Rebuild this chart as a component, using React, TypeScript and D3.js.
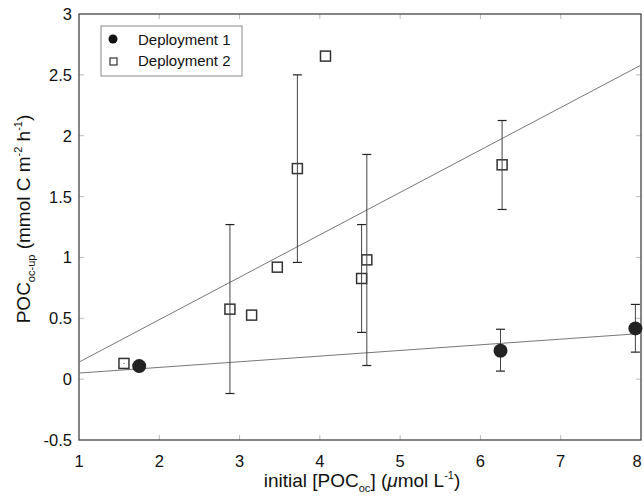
import React from "react";
import * as d3 from "d3";

const dep1X = [1.75, 6.25, 7.93];
const dep1Y = [0.107, 0.233, 0.417];
const dep1Lo = [null, 0.066, 0.222];
const dep1Hi = [null, 0.41, 0.614];

const dep2X = [1.56, 2.88, 3.15, 3.47, 3.72, 4.07, 4.52, 4.585, 6.27];
const dep2Y = [0.129, 0.575, 0.526, 0.92, 1.73, 2.654, 0.827, 0.98, 1.761];
const dep2Lo = [0.125, -0.118, null, null, 0.959, null, 0.384, 0.112, 1.394];
const dep2Hi = [0.133, 1.27, null, null, 2.5, null, 1.27, 1.846, 2.125];

const fit1 = [0.05, 0.375]; // y at x=1 and x=8
const fit2 = [0.14, 2.58];

const xTicks = [1, 2, 3, 4, 5, 6, 7, 8];
const yTicks = [-0.5, 0, 0.5, 1, 1.5, 2, 2.5, 3];

const W = 644, H = 504;
const L = 79, R = 641, T = 14, B = 440;
const font = "'Liberation Sans', Arial, Helvetica, sans-serif";

export default function App() {
  const x = d3.scaleLinear().domain([1, 8]).range([L, R]);
  const y = d3.scaleLinear().domain([-0.5, 3]).range([B, T]);
  const cap = 4.5;

  const errBar = (xv: number, lo: number | null, hi: number | null, key: string) => {
    if (lo == null || hi == null) return null;
    const px = x(xv);
    const showCaps = Math.abs(y(lo) - y(hi)) > 6;
    return (
      <g key={key}>
        <line x1={px} x2={px} y1={y(lo)} y2={y(hi)} stroke="#444" strokeWidth={1} />
        {showCaps && <line x1={px - cap} x2={px + cap} y1={y(lo)} y2={y(lo)} stroke="#222" strokeWidth={1.2} />}
        {showCaps && <line x1={px - cap} x2={px + cap} y1={y(hi)} y2={y(hi)} stroke="#222" strokeWidth={1.2} />}
      </g>
    );
  };

  const line1 = d3.line<[number, number]>().x((d) => x(d[0])).y((d) => y(d[1]));

  return (
    <svg width={W} height={H} style={{ position: "absolute", left: 0, top: 0, background: "#fff" }} fontFamily={font}>
      <rect x={0} y={0} width={W} height={H} fill="#fff" />
      {/* ticks */}
      {xTicks.slice(1, -1).map((t) => (
        <g key={"xt" + t}>
          <line x1={x(t)} x2={x(t)} y1={B} y2={B - 5} stroke="#bbb" />
          <line x1={x(t)} x2={x(t)} y1={T} y2={T + 5} stroke="#bbb" />
        </g>
      ))}
      {yTicks.slice(1, -1).map((t) => (
        <g key={"yt" + t}>
          <line x1={L} x2={L + 5} y1={y(t)} y2={y(t)} stroke="#bbb" />
          <line x1={R} x2={R - 5} y1={y(t)} y2={y(t)} stroke="#bbb" />
        </g>
      ))}
      {/* frame */}
      <rect x={L} y={T} width={R - L} height={B - T} fill="none" stroke="#444" strokeWidth={1.3} />
      {/* tick labels */}
      {xTicks.map((t) => (
        <text key={"xl" + t} x={Math.min(x(t), W - 7)} y={467} fontSize={16.5} textAnchor="middle" fill="#111">
          {t}
        </text>
      ))}
      {yTicks.map((t) => (
        <text key={"yl" + t} x={72} y={y(t) + 6} fontSize={16.5} textAnchor="end" fill="#111">
          {t}
        </text>
      ))}
      {/* axis titles */}
      <text x={362} y={487} fontSize={19} textAnchor="middle" fill="#111">
        initial [POC
        <tspan fontSize={11} dy={5}>oc</tspan>
        <tspan dy={-5}>] (</tspan>
        <tspan fontStyle="italic">μ</tspan>
        <tspan>mol L</tspan>
        <tspan fontSize={11} dy={-8}>-1</tspan>
        <tspan dy={8}>)</tspan>
      </text>
      <text transform={`translate(30, ${219}) rotate(-90)`} fontSize={19} textAnchor="middle" fill="#111">
        POC
        <tspan fontSize={11} dy={5}>oc-up</tspan>
        <tspan dy={-5}>{"\u00a0"}(mmol C m</tspan>
        <tspan fontSize={11} dy={-8}>-2</tspan>
        <tspan dy={8}> h</tspan>
        <tspan fontSize={11} dy={-8}>-1</tspan>
        <tspan dy={8}>)</tspan>
      </text>
      {/* fits */}
      <path d={line1([[1, fit1[0]], [8, fit1[1]]]) || ""} stroke="#777" strokeWidth={1} fill="none" />
      <path d={line1([[1, fit2[0]], [8, fit2[1]]]) || ""} stroke="#777" strokeWidth={1} fill="none" />
      {/* deployment 2 */}
      {dep2X.map((xv, i) => (
        <rect key={"s" + i} x={x(xv) - 5} y={y(dep2Y[i]) - 5} width={10} height={10} fill="#fff" stroke="#333" strokeWidth={1.5} />
      ))}
      {dep2X.map((xv, i) => errBar(xv, dep2Lo[i], dep2Hi[i], "e2" + i))}
      {/* deployment 1 */}
      {dep1X.map((xv, i) => errBar(xv, dep1Lo[i], dep1Hi[i], "e1" + i))}
      {dep1X.map((xv, i) => (
        <circle key={"c" + i} cx={x(xv)} cy={y(dep1Y[i])} r={7} fill="#222" />
      ))}
      {/* legend */}
      <rect x={101} y={26} width={141} height={50} fill="#fff" stroke="#888" strokeWidth={1} />
      <circle cx={113} cy={39} r={4.5} fill="#111" />
      <rect x={110} y={58} width={7} height={7} fill="#fff" stroke="#333" strokeWidth={1.2} />
      <text x={138} y={45} fontSize={15} fill="#111">Deployment 1</text>
      <text x={138} y={66} fontSize={15} fill="#111">Deployment 2</text>
    </svg>
  );
}
